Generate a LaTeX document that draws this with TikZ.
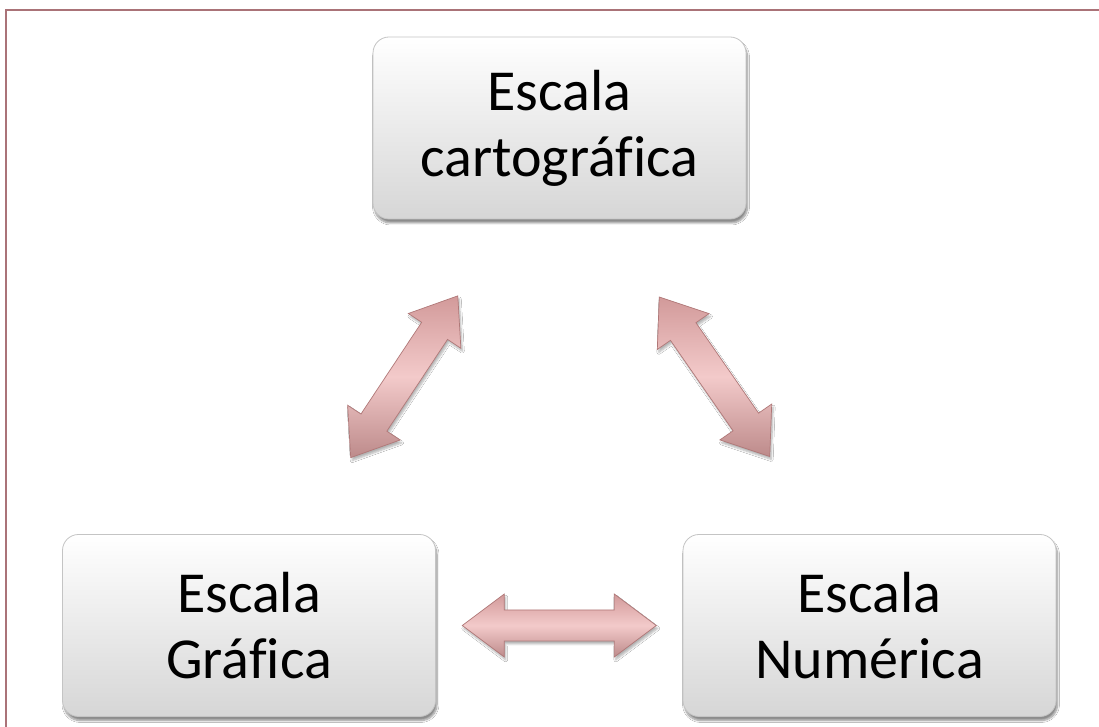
\documentclass[tikz,border=0pt]{standalone}
\usepackage{fontspec}
\setmainfont{Carlito}[Ligatures=NoCommon]
\usetikzlibrary{calc,shadows.blur}
\definecolor{framec}{HTML}{AA7378}
\definecolor{arrA}{HTML}{D29A9A}
\definecolor{arrB}{HTML}{F3CACA}
\definecolor{arrEdge}{HTML}{B07878}
\definecolor{boxbot}{HTML}{D6D6D6}
\definecolor{boxedge}{HTML}{C4C4C4}
\newcommand\blockarr[2]{%
  \begin{scope}[shift={(#1)}, rotate=#2]
    \path[blockarrow] (-97,0) -- (-55,31.5) -- (-55,15.5) -- (55,15.5) -- (55,31.5)
      -- (97,0) -- (55,-31.5) -- (55,-15.5) -- (-55,-15.5) -- (-55,-31.5) -- cycle;
  \end{scope}}
\begin{document}
\begin{tikzpicture}[x=1pt,y=1pt,
  box/.style={rectangle, rounded corners=16pt, minimum width=373pt, minimum height=182pt,
    top color=white, bottom color=boxbot, draw=boxedge, line width=0.8pt,
    font=\fontsize{58}{66}\selectfont, align=center,
    blur shadow={shadow xshift=1.5pt, shadow yshift=-4pt, shadow blur steps=8, shadow opacity=45}},
  blockarrow/.style={top color=arrA, bottom color=arrA!90!black, middle color=arrB,
    draw=arrEdge, line width=0.7pt, line join=miter,
    blur shadow={shadow xshift=1.5pt, shadow yshift=-3pt, shadow blur steps=6, shadow opacity=30}}]
\useasboundingbox (0,0) rectangle (1099,727);
\fill[white] (0,0) rectangle (1099,727);
\draw[framec, line width=2pt] (6,-20) |- (1120,717);
\node[box] (carto) at (559.5,599) {Escala\\cartográfica};
\node[box] (graf) at (249,101.5) {Escala\\Gráfica};
\node[box] (num) at (869.5,101.5) {Escala\\Numérica};
\coordinate (m1) at ($(carto.south west)!0.5!(graf.north east)$);
\coordinate (m2) at ($(carto.south east)!0.5!(num.north west)$);
\coordinate (m3) at ($(graf.east)!0.5!(num.west)$);
\blockarr{m1}{56.5}
\blockarr{m2}{-55.3}
\blockarr{m3}{0}
\end{tikzpicture}
\end{document}
